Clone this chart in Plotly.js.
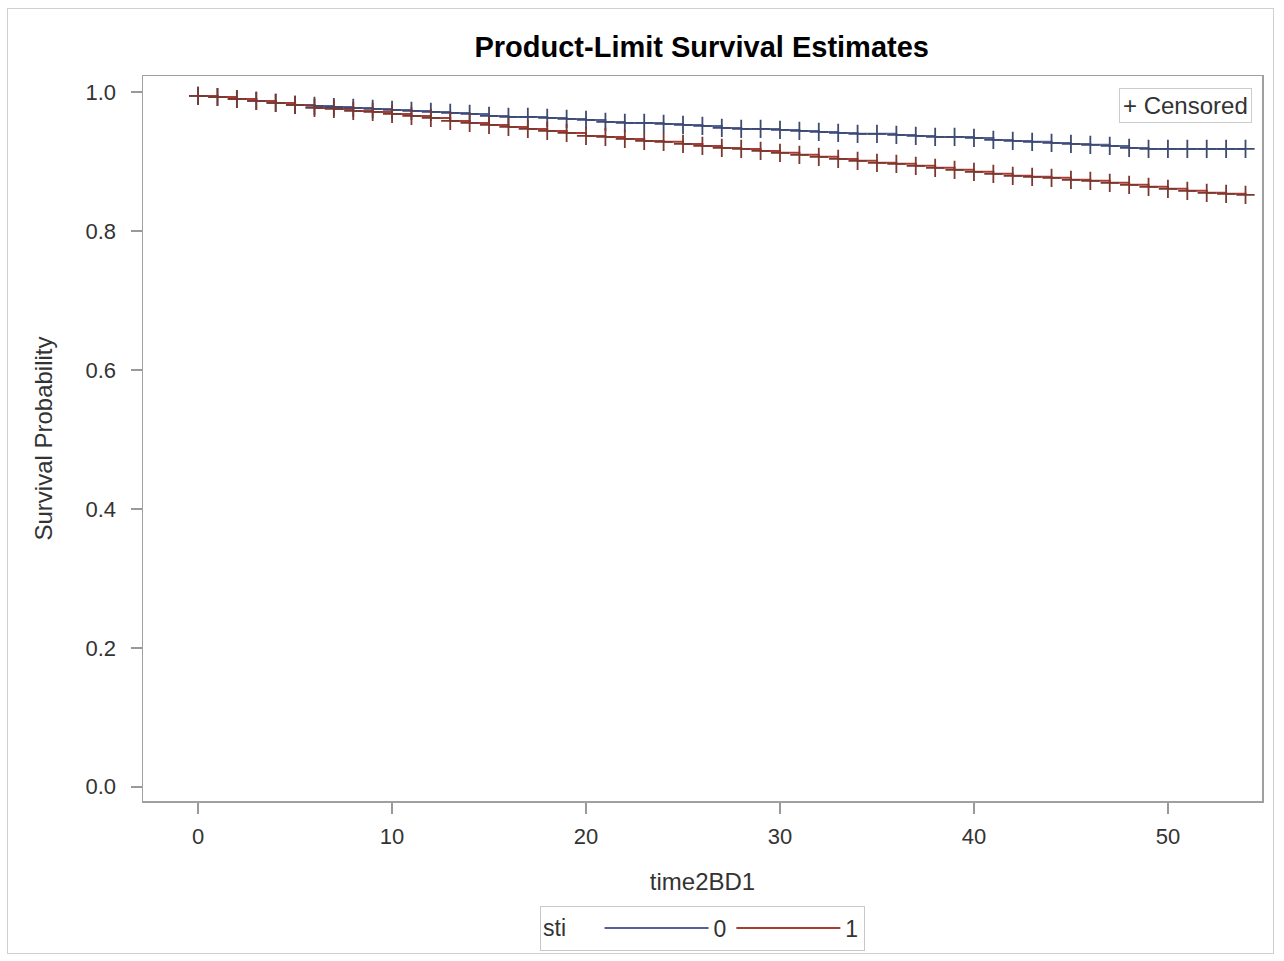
<!DOCTYPE html>
<html>
<head>
<meta charset="utf-8">
<script src="https://cdn.plot.ly/plotly-3.0.1.min.js"></script>
<style>
  html, body { margin: 0; padding: 0; background: #fff; }
  #wrap { position: relative; width: 1284px; height: 961px; }
  #chart { width: 1284px; height: 961px; }
  #frame { position: absolute; left: 7px; top: 8px; width: 1267px; height: 946px;
           border: 1px solid #d0d0d0; pointer-events: none; box-sizing: border-box; }
</style>
</head>
<body>
<div id="wrap">
  <div id="chart"></div>
  <div id="frame"></div>
</div>
<script>
// Time points (months) with censoring marks
const times = [0,1,2,3,4,5,6,7,8,9,10,11,12,13,14,15,16,17,18,19,20,21,22,23,24,25,26,27,28,29,30,31,32,33,34,35,36,37,38,39,40,41,42,43,44,45,46,47,48,49,50,51,52,53,54];

// sti = 0 survival estimates
const surv0 = [0.9943,0.9928,0.9899,0.9871,0.9842,0.9813,0.9799,0.9784,0.9770,0.9756,
               0.9741,0.9727,0.9713,0.9698,0.9684,0.9655,0.9641,0.9641,0.9626,0.9612,
               0.9598,0.9569,0.9555,0.9555,0.9540,0.9526,0.9511,0.9483,0.9468,0.9468,
               0.9454,0.9440,0.9425,0.9411,0.9397,0.9397,0.9382,0.9368,0.9353,0.9353,
               0.9339,0.9310,0.9296,0.9282,0.9267,0.9253,0.9239,0.9224,0.9195,0.9181,
               0.9181,0.9181,0.9181,0.9181,0.9181];

// sti = 1 survival estimates
const surv1 = [0.9943,0.9928,0.9899,0.9871,0.9842,0.9813,0.9770,0.9756,0.9727,0.9713,
               0.9684,0.9655,0.9626,0.9583,0.9555,0.9526,0.9497,0.9468,0.9440,0.9411,
               0.9368,0.9353,0.9325,0.9296,0.9282,0.9253,0.9224,0.9195,0.9181,0.9152,
               0.9124,0.9095,0.9066,0.9037,0.9009,0.8980,0.8966,0.8937,0.8908,0.8879,
               0.8851,0.8822,0.8793,0.8779,0.8764,0.8736,0.8721,0.8693,0.8664,0.8635,
               0.8606,0.8578,0.8549,0.8534,0.8520];

const groupNames = ['0', '1'];
const groupColors = ['#52619a', '#aa3d33'];
const markColors = ['#3f4a70', '#7a3830'];

const FONT = 'Liberation Sans, Arial, Helvetica, sans-serif';
const series = [surv0, surv1];

const lineTraces = series.map((s, i) => ({
  x: times, y: s, type: 'scatter', mode: 'lines', name: groupNames[i],
  line: { shape: 'hv', color: groupColors[i], width: 2 },
  hoverinfo: 'skip'
}));
const markTraces = series.map((s, i) => ({
  x: times, y: s, type: 'scatter', mode: 'markers', showlegend: false,
  marker: { symbol: 'cross-thin', size: 13, color: markColors[i],
            line: { color: markColors[i], width: 1.8 } },
  hoverinfo: 'skip'
}));

const layout = {
  width: 1284, height: 961,
  margin: { l: 143, r: 22, t: 76, b: 159 },
  paper_bgcolor: '#ffffff',
  plot_bgcolor: '#ffffff',
  font: { family: FONT, color: '#333333', size: 22 },
  title: { text: '<b>Product-Limit Survival Estimates</b>',
           font: { family: FONT, size: 29, color: '#000000' },
           x: 0.5465, xanchor: 'center', y: 0.951, yanchor: 'middle' },
  xaxis: {
    range: [-2.84, 54.85],
    tickvals: [0, 10, 20, 30, 40, 50],
    ticks: 'outside', ticklen: 11, tickcolor: '#999999', tickwidth: 1.5,
    ticklabelstandoff: 4,
    showline: true, linecolor: '#a0a0a0', linewidth: 1.5, mirror: true,
    showgrid: false, zeroline: false,
    tickfont: { size: 22, color: '#333333' },
    title: { text: 'time2BD1', font: { size: 24, color: '#333333' }, standoff: 25 }
  },
  yaxis: {
    range: [-0.0205, 1.023],
    tickvals: [0, 0.2, 0.4, 0.6, 0.8, 1.0],
    tickformat: '.1f',
    ticks: 'outside', ticklen: 11, tickcolor: '#999999', tickwidth: 1.5,
    ticklabelstandoff: 10,
    showline: true, linecolor: '#a0a0a0', linewidth: 1.5, mirror: true,
    showgrid: false, zeroline: false,
    tickfont: { size: 22, color: '#333333' },
    title: { text: 'Survival Probability', font: { size: 24, color: '#333333' }, standoff: 26 }
  },
  showlegend: true,
  legend: {
    orientation: 'h',
    x: 0.5, xanchor: 'center',
    y: -0.1736, yanchor: 'middle',
    bordercolor: '#c8c8c8', borderwidth: 1,
    font: { size: 23, color: '#333333' },
    title: { text: 'sti    ', side: 'left', font: { size: 23, color: '#333333' } },
    itemwidth: 104,
    traceorder: 'normal'
  },
  annotations: [{
    xref: 'paper', yref: 'paper',
    x: 0.991, y: 0.983, xanchor: 'right', yanchor: 'top',
    text: '+ Censored', showarrow: false,
    font: { size: 24, color: '#333333' },
    bordercolor: '#cccccc', borderwidth: 1, borderpad: 3,
    bgcolor: '#ffffff'
  }]
};

Plotly.newPlot('chart', lineTraces.concat(markTraces), layout, { staticPlot: true, displayModeBar: false });
</script>
</body>
</html>
